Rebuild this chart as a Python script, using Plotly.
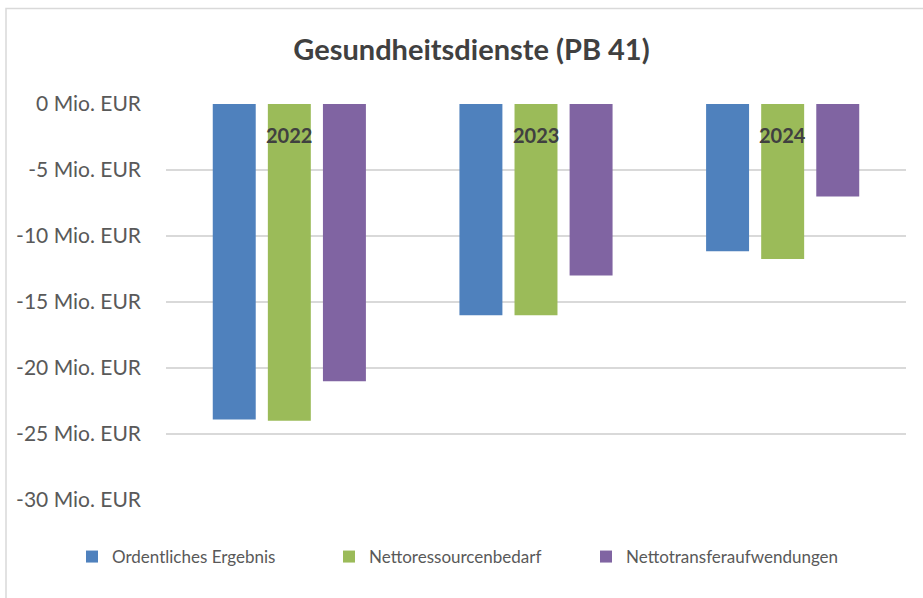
import plotly.graph_objects as go

years = ["2022", "2023", "2024"]
ordentliches_ergebnis = [-23.9, -16.0, -11.15]
nettoressourcenbedarf = [-24.0, -16.0, -11.75]
nettotransferaufwendungen = [-21.0, -13.0, -7.0]
series_names = ["Ordentliches Ergebnis", "Nettoressourcenbedarf", "Nettotransferaufwendungen"]
series_colors = ["#4F81BD", "#9BBB59", "#8064A2"]
tick_values = [0, -5, -10, -15, -20, -25, -30]
tick_labels = ["0 Mio. EUR", "-5 Mio. EUR", "-10 Mio. EUR", "-15 Mio. EUR",
               "-20 Mio. EUR", "-25 Mio. EUR", "-30 Mio. EUR"]

W, H = 923, 598
ML, MR, MT, MB = 166, 17, 104, 98
PW, PH = W - ML - MR, H - MT - MB

def px_x(p):
    return (p - ML) / PW

def px_y(p):
    return (H - MB - p) / PH

FONT = "Lato"

fig = go.Figure()
for name, vals, col in zip(series_names,
                           [ordentliches_ergebnis, nettoressourcenbedarf, nettotransferaufwendungen],
                           series_colors):
    fig.add_trace(go.Bar(x=years, y=vals, name=name, marker=dict(color=col, line=dict(width=0))))

for i, yr in enumerate(years):
    fig.add_annotation(x=i, y=0, xref="x", yref="y", text="<b>%s</b>" % yr,
                       showarrow=False, yanchor="middle", yshift=-31,
                       font=dict(family=FONT, size=20, color="#404040"))

fig.add_shape(type="rect", xref="paper", yref="paper",
              x0=px_x(6), x1=px_x(940), y0=px_y(620), y1=px_y(8.5),
              line=dict(color="#D9D9D9", width=1.5), fillcolor="rgba(0,0,0,0)", layer="below")

fig.update_layout(
    width=W, height=H,
    margin=dict(l=ML, r=MR, t=MT, b=MB),
    paper_bgcolor="white", plot_bgcolor="white",
    barmode="group", bargap=0.33, bargroupgap=0.22,
    title=dict(text="<b>Gesundheitsdienste (PB 41)</b>", x=471.5 / W, xref="container",
               xanchor="center", y=1 - 50 / H, yref="container", yanchor="middle",
               font=dict(family=FONT, size=29, color="#404040")),
    xaxis=dict(type="category", categoryarray=years, range=[-0.5, 2.5], autorange=False,
               showticklabels=False, showgrid=False, zeroline=False, showline=False, ticks=""),
    yaxis=dict(range=[-30, 0], autorange=False, tickvals=tick_values, ticktext=tick_labels,
               showgrid=True, gridcolor="#D9D9D9", gridwidth=1.5, zeroline=False,
               showline=False, ticks="", ticklabelstandoff=24,
               tickfont=dict(family=FONT, size=21, color="#595959")),
    legend=dict(orientation="h", x=px_x(72), xanchor="left", y=px_y(557), yanchor="middle",
                entrywidth=212, entrywidthmode="pixels",
                font=dict(family=FONT, size=17, color="#595959"), bgcolor="rgba(0,0,0,0)"),
    showlegend=True,
)

fig.write_html("out.html", config={"displayModeBar": False},
               post_script="document.body.style.margin='0';")
